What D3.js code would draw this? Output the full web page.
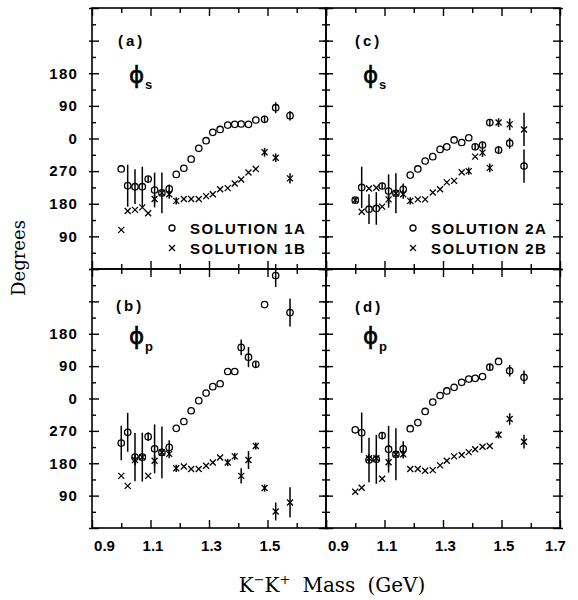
<!DOCTYPE html>
<html><head><meta charset="utf-8">
<script src="https://cdn.jsdelivr.net/npm/d3@7"></script>
<style>body{margin:0;background:#fff}</style>
</head><body><svg id="c" width="578" height="600"></svg>
<script>
// ---- data ----
const mass = [1.000, 1.022, 1.047, 1.072, 1.092, 1.114, 1.139, 1.164, 1.188, 1.214, 1.239, 1.265,
              1.290, 1.313, 1.338, 1.364, 1.388, 1.410, 1.435, 1.460, 1.490, 1.528, 1.577];

// panel (a): phi_s, solutions 1A (circles) and 1B (crosses)
const aSolA    = [-84,-130,-133,-133,-112,-142,-150,-139,-99,-82,-57,-27,-6,17,25,37,39,40,39,51,53,85,63];
const aSolAErr = [0,58,48,55,8,48,56,12,0,0,0,0,0,0,0,0,0,0,0,0,10,15,13];
const aSolB    = [-252,-200,-197,-190,-206,-167,-150,-154,-172,-167,-167,-167,-159,-154,-140,-137,-124,-113,-94,-84,-38,-53,-110];
const aSolBErr = [0,0,0,0,0,12,0,12,10,0,0,0,0,0,0,0,0,0,0,0,12,12,14];

// panel (b): phi_p, solutions 1A / 1B
const bSolA    = [-124,-94,-163,-163,-106,-140,-150,-136,-83,-64,-34,-6,15,33,41,75,75,142,115,95,261,342,239];
const bSolAErr = [48,54,67,68,12,68,72,20,0,0,0,0,0,0,0,0,0,22,28,8,0,32,39];
const bSolB    = [-215,-243,-171,-163,-215,-173,-150,-154,-194,-189,-196,-196,-187,-178,-164,-178,-161,-215,-171,-132,-249,-314,-289];
const bSolBErr = [0,0,15,0,0,15,0,12,10,0,0,0,0,0,0,10,10,21,25,10,10,25,42];

// panel (c): phi_s, solutions 2A / 2B
const cSolA    = [-170,-135,-195,-193,-131,-145,-151,-140,-101,-84,-62,-50,-30,-23,-4,-11,2,-23,-18,44,-32,-13,-76];
const cSolAErr = [8,57,41,45,8,46,55,16,0,0,0,0,0,0,0,0,0,8,8,10,10,15,46];
const cSolB    = [-170,-202,-138,-136,-188,-168,-151,-154,-172,-168,-168,-149,-140,-121,-117,-93,-90,-50,-39,-81,44,39,25];
const cSolBErr = [0,0,0,0,0,12,0,12,10,0,0,0,0,0,0,0,10,0,12,12,12,16,46];

// panel (d): phi_p, solutions 2A / 2B
const dSolA    = [-87,-95,-171,-169,-103,-141,-155,-140,-84,-67,-36,-10,8,21,31,45,54,56,61,87,103,77,59];
const dSolAErr = [0,56,62,68,10,65,72,21,0,0,0,0,0,0,0,0,0,0,0,8,0,16,19];
const dSolB    = [-259,-248,-166,-166,-223,-177,-155,-155,-196,-196,-201,-199,-186,-173,-161,-157,-149,-141,-134,-132,-101,-57,-120];
const dSolBErr = [0,0,12,12,0,12,0,12,0,0,0,0,0,0,0,0,0,0,0,0,10,16,19];

// ticks
const xMajorTicks = [0.9, 1.1, 1.3, 1.5, 1.7];
const xMinorTicks = [1.0, 1.2, 1.4, 1.6];
const xLabelsLeft = [0.9, 1.1, 1.3, 1.5];
const xLabelsRight = [0.9, 1.1, 1.3, 1.5, 1.7];
const yMajorTicks = [-360, -270, -180, -90, 0, 90, 180, 270, 360];
const yMinorTicks = [-315, -225, -135, -45, 45, 135, 225, 315];
const yLabels = [-270, -180, -90, 0, 90, 180];
const legendLabels = {a: ["SOLUTION 1A", "SOLUTION 1B"], c: ["SOLUTION 2A", "SOLUTION 2B"]};

// ---- layout ----
const colX = [92, 326, 560];
const rowY = [8, 269, 528];
const panels = [
  {id:"a", col:0, row:0, sub:"s", A:aSolA, Ae:aSolAErr, B:aSolB, Be:aSolBErr, lx:26, ly:38, leg:80},
  {id:"b", col:0, row:1, sub:"p", A:bSolA, Ae:bSolAErr, B:bSolB, Be:bSolBErr, lx:24, ly:42},
  {id:"c", col:1, row:0, sub:"s", A:cSolA, Ae:cSolAErr, B:cSolB, Be:cSolBErr, lx:29, ly:38, leg:87},
  {id:"d", col:1, row:1, sub:"p", A:dSolA, Ae:dSolAErr, B:dSolB, Be:dSolBErr, lx:29, ly:43}
];

const svg = d3.select("#c");
const sans = "'Liberation Sans', Arial, sans-serif";
const fmtDeg = v => String(((v % 360) + 360) % 360);

panels.forEach(p => {
  const L = colX[p.col], R = colX[p.col + 1], T = rowY[p.row], B = rowY[p.row + 1];
  const x = d3.scaleLinear().domain([0.9, 1.7]).range([L, R]);
  const y = d3.scaleLinear().domain([-360, 360]).range([B, T]);
  const g = svg.append("g");

  // frame
  g.append("rect").attr("x", L).attr("y", T).attr("width", R - L).attr("height", B - T)
    .attr("fill", "none").attr("stroke", "#000").attr("stroke-width", 1.6);

  const tickStyle = sel => { sel.select(".domain").remove(); sel.selectAll("line").attr("stroke", "#000").attr("stroke-width", 1.4); sel.selectAll("text").remove(); };
  // x ticks (inward) top and bottom
  [[d3.axisTop, T], [d3.axisBottom, B]].forEach(([ax, yy]) => {
    g.append("g").attr("transform", `translate(0,${yy})`).call(ax(x).tickValues(xMajorTicks).tickSize(-8)).call(tickStyle);
    g.append("g").attr("transform", `translate(0,${yy})`).call(ax(x).tickValues(xMinorTicks).tickSize(-5)).call(tickStyle);
  });
  // y ticks (inward, slight outward)
  [[d3.axisLeft, L], [d3.axisRight, R]].forEach(([ax, xx]) => {
    g.append("g").attr("transform", `translate(${xx},0)`).call(ax(y).tickValues(yMajorTicks).tickSize(-7)).call(tickStyle);
    g.append("g").attr("transform", `translate(${xx},0)`).call(ax(y).tickValues(yMinorTicks).tickSize(-4)).call(tickStyle);
    g.append("g").attr("transform", `translate(${xx},0)`).call(ax(y).tickValues(yMajorTicks).tickSize(3)).call(tickStyle);
  });

  // y labels (left column only)
  if (p.col === 0) {
    const ya = g.append("g").attr("transform", `translate(${L},0)`)
      .call(d3.axisLeft(y).tickValues(yLabels).tickSize(0).tickPadding(14).tickFormat(fmtDeg));
    ya.select(".domain").remove();
    ya.selectAll("text").attr("font-family", sans).attr("font-weight", "bold").attr("font-size", 15)
      .attr("letter-spacing", 1.2).attr("fill", "#000");
  }
  // x labels (bottom row)
  if (p.row === 1) {
    const labs = p.col === 0 ? xLabelsLeft : xLabelsRight;
    const xa = g.append("g").attr("transform", `translate(0,${B})`)
      .call(d3.axisBottom(x).tickValues(labs).tickSize(0).tickPadding(12).tickFormat(d3.format(".1f")));
    xa.select(".domain").remove();
    xa.selectAll("text").attr("font-family", sans).attr("font-weight", "bold").attr("font-size", 15)
      .attr("fill", "#000").attr("dx", d => d === 0.9 ? 12 : (d === 1.7 ? -5 : 2));
  }

  // panel letter
  g.append("text").attr("x", L + p.lx).attr("y", T + p.ly).text(`(${p.id})`)
    .attr("font-family", sans).attr("font-weight", "bold").attr("font-size", 15).attr("letter-spacing", 3);
  // phi symbol with subscript
  g.append("text").attr("x", L + 37).attr("y", T + 75).text("ϕ")
    .attr("font-family", "'DejaVu Sans', sans-serif").attr("font-size", 23)
    .attr("stroke", "#000").attr("stroke-width", 0.6);
  g.append("text").attr("x", L + 53).attr("y", T + (p.sub === "s" ? 81 : 82)).text(p.sub)
    .attr("font-family", sans).attr("font-weight", "bold").attr("font-size", 13);

  // error bars
  const drawErr = (vals, errs) => {
    g.append("g").selectAll("line").data(mass.map((m, i) => ({m, v: vals[i], e: errs[i]})).filter(d => d.e > 0))
      .join("line").attr("x1", d => x(d.m)).attr("x2", d => x(d.m))
      .attr("y1", d => y(d.v - d.e)).attr("y2", d => y(d.v + d.e))
      .attr("stroke", "#000").attr("stroke-width", 1.5);
  };
  drawErr(p.A, p.Ae);
  drawErr(p.B, p.Be);
  // circles (solution A)
  g.append("g").selectAll("circle").data(mass.map((m, i) => ({m, v: p.A[i]})))
    .join("circle").attr("cx", d => x(d.m)).attr("cy", d => y(d.v)).attr("r", 3.2)
    .attr("fill", "none").attr("stroke", "#000").attr("stroke-width", 1.3);
  // crosses (solution B)
  g.append("g").selectAll("path").data(mass.map((m, i) => ({m, v: p.B[i]})))
    .join("path").attr("transform", d => `translate(${x(d.m)},${y(d.v)})`)
    .attr("d", "M-3,-3L3,3M-3,3L3,-3").attr("stroke", "#000").attr("stroke-width", 1.3).attr("fill", "none");

  // legend
  if (legendLabels[p.id]) {
    const labs = legendLabels[p.id];
    const lg = g.append("g").attr("transform", `translate(${L + p.leg},${T})`);
    lg.append("circle").attr("cx", 0).attr("cy", 220).attr("r", 3).attr("fill", "none").attr("stroke", "#000").attr("stroke-width", 1.3);
    lg.append("path").attr("transform", "translate(0,240)").attr("d", "M-3,-3L3,3M-3,3L3,-3").attr("stroke", "#000").attr("stroke-width", 1.3);
    labs.forEach((t, i) => lg.append("text").attr("x", 18).attr("y", 226 + i * 20).text(t)
      .attr("font-family", sans).attr("font-weight", "bold").attr("font-size", 15).attr("letter-spacing", 1.4));
  }
});

// axis titles
svg.append("text").attr("transform", "translate(25,258) rotate(-90)").attr("text-anchor", "middle")
  .attr("font-family", "'DejaVu Serif', serif").attr("font-size", 18).text("Degrees");
const xt = svg.append("text").attr("x", 332).attr("y", 592).attr("text-anchor", "middle")
  .attr("font-family", "'DejaVu Serif', serif").attr("font-size", 20);
xt.append("tspan").text("K");
xt.append("tspan").attr("dy", -8).attr("font-size", 13).text("−");
xt.append("tspan").attr("dy", 8).text("K");
xt.append("tspan").attr("dy", -8).attr("font-size", 13).text("+");
xt.append("tspan").attr("dy", 8).attr("dx", 12).text("Mass");
xt.append("tspan").attr("dx", 12).text("(GeV)");
</script></body></html>
